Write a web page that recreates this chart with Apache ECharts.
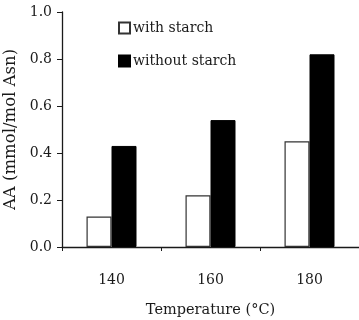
<!DOCTYPE html>
<html>
<head>
<meta charset="utf-8">
<script src="https://cdn.jsdelivr.net/npm/echarts@6/dist/echarts.min.js"></script>
<style>
  html, body { margin: 0; padding: 0; background: #fff; }
  #main { width: 359px; height: 320px; }
</style>
</head>
<body>
<div id="main"></div>
<script>
// data
const temperatures = ["140", "160", "180"]
const withStarch = [0.13, 0.22, 0.45]
const withoutStarch = [0.43, 0.54, 0.82]

const font = "DejaVu Serif"
const ink = "#1a1a1a"

const myChart = echarts.init(document.getElementById("main"))

myChart.setOption({
  animation: false,
  textStyle: { fontFamily: font, color: ink },
  grid: { left: 62, right: 0, top: 12, bottom: 73, containLabel: false, outerBoundsMode: "none" },
  legend: {
    orient: "vertical",
    left: 113,
    top: 16,
    itemWidth: 11,
    itemHeight: 11,
    itemGap: 19,
    icon: "rect",
    textStyle: { fontFamily: font, fontSize: 14, color: ink, padding: [0, 0, 0, -2] },
    data: ["with starch", "without starch"],
  },
  xAxis: {
    type: "category",
    data: temperatures,
    name: "Temperature (°C)",
    nameLocation: "middle",
    nameGap: 56,
    nameTextStyle: { fontFamily: font, fontSize: 14.5, color: ink },
    axisLine: { lineStyle: { color: ink, width: 1.3 } },
    axisTick: { show: true, length: 4, lineStyle: { color: ink } },
    axisLabel: { margin: 26, fontFamily: font, fontSize: 14, color: ink },
  },
  yAxis: {
    type: "value",
    min: 0,
    max: 1,
    interval: 0.2,
    name: "AA (mmol/mol Asn)",
    nameLocation: "middle",
    nameGap: 38,
    nameTextStyle: { fontFamily: font, fontSize: 16.5, color: ink },
    splitLine: { show: false },
    axisLine: { show: true, lineStyle: { color: ink, width: 1.3 } },
    axisTick: { show: true, length: 5, lineStyle: { color: ink } },
    axisLabel: {
      margin: 10,
      fontFamily: font,
      fontSize: 14,
      color: ink,
      formatter: (v) => v.toFixed(1),
    },
  },
  series: [
    {
      name: "with starch",
      type: "bar",
      data: withStarch,
      barWidth: 25,
      barGap: "0%",
      itemStyle: { color: "#fff", borderColor: "#333", borderWidth: 1.2 },
    },
    {
      name: "without starch",
      type: "bar",
      data: withoutStarch,
      barWidth: 25,
      itemStyle: { color: "#000", borderColor: "#000", borderWidth: 1 },
    },
  ],
})
</script>
</body>
</html>
